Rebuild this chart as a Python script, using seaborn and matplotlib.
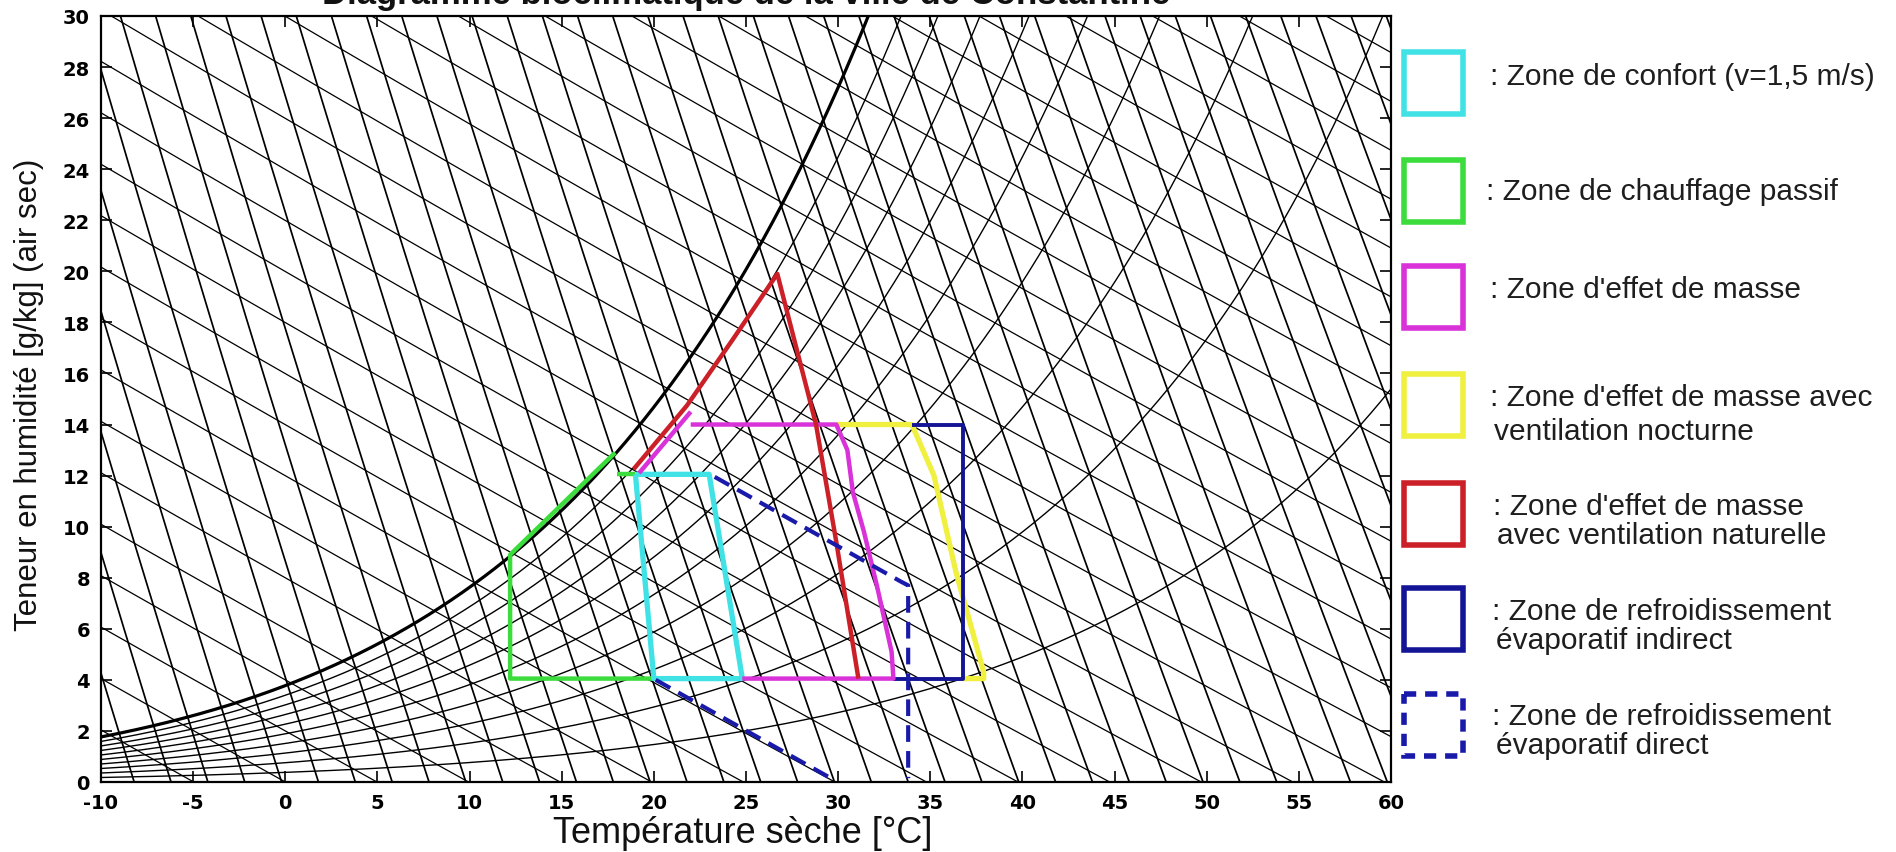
import numpy as np
import pandas as pd
import matplotlib
matplotlib.use("Agg")
import matplotlib.pyplot as plt
from matplotlib.patches import Rectangle
import seaborn as sns

# ---------------- text / axes data ----------------
title_text = "Diagramme bioclimatique de la ville de Constantine"
x_label = "Température sèche [°C]"
y_label = "Teneur en humidité [g/kg] (air sec)"
x_ticks = [-10, -5, 0, 5, 10, 15, 20, 25, 30, 35, 40, 45, 50, 55, 60]
y_ticks = [0, 2, 4, 6, 8, 10, 12, 14, 16, 18, 20, 22, 24, 26, 28, 30]

# ---------------- psychrometric grid levels ----------------
rh_levels = [0.1, 0.2, 0.3, 0.4, 0.5, 0.6, 0.7, 0.8, 0.9]
enthalpy_levels = [-5, 0, 5, 10, 15, 20, 25, 30, 35, 40, 45, 50, 55, 60, 65, 70,
                   75, 80, 85, 90, 95, 100, 105, 110, 115, 120, 125, 130, 135, 140]
volume_base_temps = [-8.2, -6.2, -4.2, -2.2, -0.2, 1.8, 3.8, 5.8, 7.8, 9.8, 11.8,
                     13.8, 15.8, 17.8, 19.8, 21.8, 23.8, 25.8, 27.8, 29.8, 31.8,
                     33.8, 35.8, 37.8, 39.8, 41.8, 43.8, 45.8, 47.8, 49.8, 51.8,
                     53.8, 55.8, 57.8, 59.8, 61.8, 63.8, 65.8, 67.8, 69.8, 71.8,
                     73.8, 75.8]

# ---------------- bioclimatic zones (T in degC, W in g/kg) ----------------
confort_T = [19.0, 23.0, 24.8, 20.0, 19.0]
confort_W = [12.05, 12.05, 4.05, 4.05, 12.05]

chauffage_T = [20.0, 12.2, 12.2, 17.9]
chauffage_W = [4.05, 4.05, 8.9, 12.9]
chauffage_top_T = [18.0, 19.0]
chauffage_top_W = [12.05, 12.05]

masse_T = [22.0, 29.9, 30.5, 30.8, 31.4, 32.1, 32.9, 33.0, 24.8]
masse_W = [14.0, 14.0, 13.0, 11.35, 9.8, 7.7, 5.1, 4.05, 4.05]
masse_diag_T = [19.2, 22.0]
masse_diag_W = [12.1, 14.5]

nocturne_T = [29.9, 34.0, 35.2, 36.4, 37.0, 37.9, 37.9, 36.8]
nocturne_W = [14.0, 14.0, 12.0, 8.2, 6.65, 4.3, 4.05, 4.05]

naturelle_T = [18.9, 21.8, 24.3, 26.7, 28.8, 29.9, 31.1]
naturelle_W = [12.25, 14.75, 17.35, 19.9, 14.0, 9.4, 4.05]

indirect_T = [34.0, 36.75, 36.75, 33.0]
indirect_W = [14.0, 14.0, 4.05, 4.05]

direct_T = [23.3, 33.4, 33.8, 33.8]
direct_W = [11.95, 7.85, 7.7, 0.15]
direct_low_T = [20.1, 29.6]
direct_low_W = [4.0, 0.15]

legend_labels = [
    [": Zone de confort (v=1,5 m/s)"],
    [": Zone de chauffage passif"],
    [": Zone d'effet de masse"],
    [": Zone d'effet de masse avec", "ventilation nocturne"],
    [": Zone d'effet de masse", "avec ventilation naturelle"],
    [": Zone de refroidissement", "évaporatif indirect"],
    [": Zone de refroidissement", "évaporatif direct"],
]

C_CYAN = "#40e2e6"
C_GREEN = "#3cdc3c"
C_MAG = "#d832d8"
C_YEL = "#f0f040"
C_RED = "#cc2028"
C_BLUE = "#141496"
C_DBLUE = "#1a1aaa"

# ---------------- figure ----------------
sns.set_theme(style="white")
plt.rcParams["font.family"] = ["Liberation Sans", "DejaVu Sans"]
plt.rcParams["axes.unicode_minus"] = False

W_PX, H_PX = 1896, 853
fig = plt.figure(figsize=(W_PX / 100, H_PX / 100), dpi=100)
fig.patch.set_facecolor("white")
L, R, T_, B = 101, 1391, 17, 783
ax = fig.add_axes([L / W_PX, (H_PX - B) / H_PX, (R - L) / W_PX, (B - T_) / H_PX])
ax.set_facecolor("white")

# psychrometric background
Tg = np.linspace(-10, 60, 1401)
psat = 0.6112 * np.exp(17.67 * Tg / (Tg + 243.5))
Wsat = 622.0 * psat / (101.325 - psat)

for phi in rh_levels:
    ax.plot(Tg, phi * Wsat, color="black", lw=1.0, zorder=2)
ax.plot(Tg, Wsat, color="black", lw=2.3, zorder=3)

for h in enthalpy_levels:
    Wh = 1000.0 * (h - 1.006 * Tg) / (2501.0 + 1.86 * Tg)
    ax.plot(Tg, Wh, color="black", lw=0.9, zorder=2)

Wv = np.linspace(0, 30, 301)
for t0 in volume_base_temps:
    Tv = (t0 + 273.15) / (1 + 1.6078 * Wv / 1000.0) - 273.15
    ax.plot(Tv, Wv, color="black", lw=1.25, zorder=2)


def zone(Ts, Ws, color, lw, z, ls="-"):
    df = pd.DataFrame({"T": Ts, "W": Ws})
    sns.lineplot(data=df, x="T", y="W", sort=False, estimator=None, ax=ax,
                 color=color, lw=lw, zorder=z, linestyle=ls,
                 solid_capstyle="butt", dash_capstyle="butt")


zone(nocturne_T, nocturne_W, C_YEL, 3.8, 5)
zone(indirect_T, indirect_W, C_BLUE, 2.8, 6)
zone(chauffage_T, chauffage_W, C_GREEN, 3.2, 7)
zone(chauffage_top_T, chauffage_top_W, C_GREEN, 3.2, 7)
zone(confort_T, confort_W, C_CYAN, 3.8, 8)
zone(masse_T, masse_W, C_MAG, 3.2, 9)
zone(masse_diag_T, masse_diag_W, C_MAG, 3.2, 9)
zone(naturelle_T, naturelle_W, C_RED, 3.2, 10)
zone(direct_T, direct_W, C_DBLUE, 3.0, 11, ls=(0, (4.0, 2.2)))
zone(direct_low_T, direct_low_W, C_DBLUE, 3.0, 11, ls=(0, (4.0, 2.2)))

ax.set_xlim(-10, 60)
ax.set_ylim(0, 30)
ax.set_xticks(x_ticks)
ax.set_yticks(y_ticks)
ax.set_xticklabels([str(v) for v in x_ticks])
ax.set_yticklabels([str(v) for v in y_ticks])
ax.tick_params(direction="in", length=8, width=1.2, top=True, right=True,
               bottom=True, left=True, colors="black", pad=8)
for lab in ax.get_xticklabels() + ax.get_yticklabels():
    lab.set_fontfamily("DejaVu Sans")
    lab.set_fontweight("bold")
    lab.set_fontsize(14)
for sp in ax.spines.values():
    sp.set_visible(True)
    sp.set_color("black")
    sp.set_linewidth(1.6)
    sp.set_zorder(20)

ax.set_xlabel(x_label, fontsize=26, color="#111111")
ax.xaxis.label.set_va("center")
ax.xaxis.set_label_coords((743 - L) / (R - L), (B - 834) / (B - T_))
ax.set_ylabel(y_label, fontsize=22.5, color="#111111")
ax.yaxis.label.set_va("center")
ax.yaxis.set_label_coords((29 - L) / (R - L), (B - 395) / (B - T_))

# title: only its lower part shows at the top edge, as in the reference
fig.text(746 / W_PX, 1 - 4 / H_PX, title_text, ha="center", va="baseline",
         fontsize=25, fontweight="bold", color="#111111")

# ---------------- legend (right side, pixel layout) ----------------
lg = fig.add_axes([0, 0, 1, 1], zorder=30)
lg.set_xlim(0, W_PX)
lg.set_ylim(H_PX, 0)
lg.axis("off")
lg.patch.set_alpha(0)

leg_colors = [C_CYAN, C_GREEN, C_MAG, C_YEL, C_RED, C_BLUE, C_DBLUE]
leg_styles = ["-", "-", "-", "-", "-", "-", (0, (2.2, 1.6))]
box_cy = [84, 192, 298, 406, 515, 620, 726]
text_cy = [[77], [192], [290], [398, 432], [507, 536], [612, 641], [717, 746]]
text_x = [1490, 1486, 1490, 1490, 1493, 1492, 1492]
for col, ls, cy, tys, tx, labs in zip(leg_colors, leg_styles, box_cy, text_cy,
                                      text_x, legend_labels):
    lg.add_patch(Rectangle((1404, cy - 31), 59, 62, facecolor="white",
                           edgecolor=col, lw=4.0, linestyle=ls,
                           joinstyle="miter"))
    for i, (ty, s) in enumerate(zip(tys, labs)):
        lg.text(tx + (4 if i > 0 else 0), ty, s, ha="left", va="center",
                fontsize=21.5, color="#1e1e1e")

fig.savefig("out.png", dpi=100, facecolor="white")
